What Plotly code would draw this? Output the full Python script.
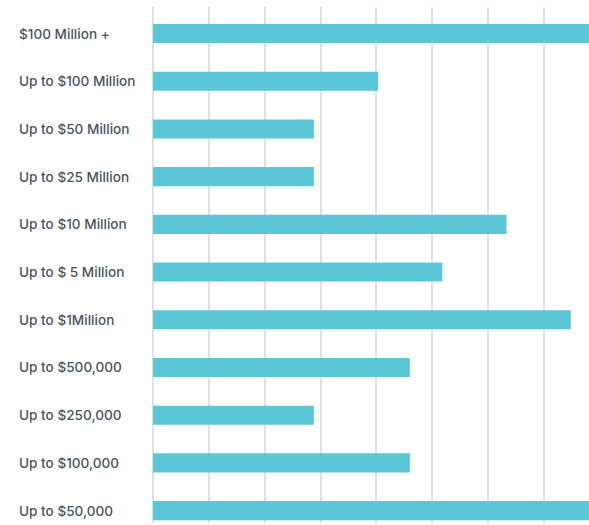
import plotly.graph_objects as go

categories = [
    "$100 Million +",
    "Up to $100 Million",
    "Up to $50 Million",
    "Up to $25 Million",
    "Up to $10 Million",
    "Up to $ 5 Million",
    "Up to $1Million",
    "Up to $500,000",
    "Up to $250,000",
    "Up to $100,000",
    "Up to $50,000",
]
values = [8.6, 4.03, 2.88, 2.88, 6.33, 5.18, 7.48, 4.60, 2.88, 4.60, 8.6]

W, H = 589, 525
ML, MR, MT, MB = 153, 0, 7, 2
plot_w = W - ML - MR
grid_px = 55.85
label_px = 17

ypos = list(range(len(categories)))

fig = go.Figure(
    go.Bar(
        x=values,
        y=ypos,
        orientation="h",
        width=0.40,
        marker=dict(color="#5BC6D6", line=dict(width=0)),
        hoverinfo="skip",
    )
)

for i, c in enumerate(categories):
    fig.add_annotation(
        x=(label_px - ML) / plot_w,
        xref="paper",
        y=i,
        yref="y",
        text=c,
        showarrow=False,
        xanchor="left",
        yanchor="middle",
        font=dict(family="Inter, Noto Sans, sans-serif", size=13.6, weight=500,
                  color="#4A545F"),
    )

fig.update_xaxes(
    range=[0, plot_w / grid_px],
    dtick=1,
    tick0=0,
    showgrid=True,
    gridcolor="#E0E0E0",
    gridwidth=2,
    zeroline=True,
    zerolinecolor="#E0E0E0",
    zerolinewidth=2,
    showticklabels=False,
    showline=False,
    ticks="",
)
fig.update_yaxes(
    range=[10.26, -0.556],
    showgrid=False,
    zeroline=False,
    showticklabels=False,
    showline=False,
    ticks="",
)
fig.update_layout(
    width=W,
    height=H,
    margin=dict(l=ML, r=MR, t=MT, b=MB, pad=0),
    paper_bgcolor="white",
    plot_bgcolor="white",
    showlegend=False,
)

fig.write_html(
    "out.html",
    config={"displayModeBar": False},
    post_script="document.body.style.margin='0';document.body.style.overflow='hidden';",
)
